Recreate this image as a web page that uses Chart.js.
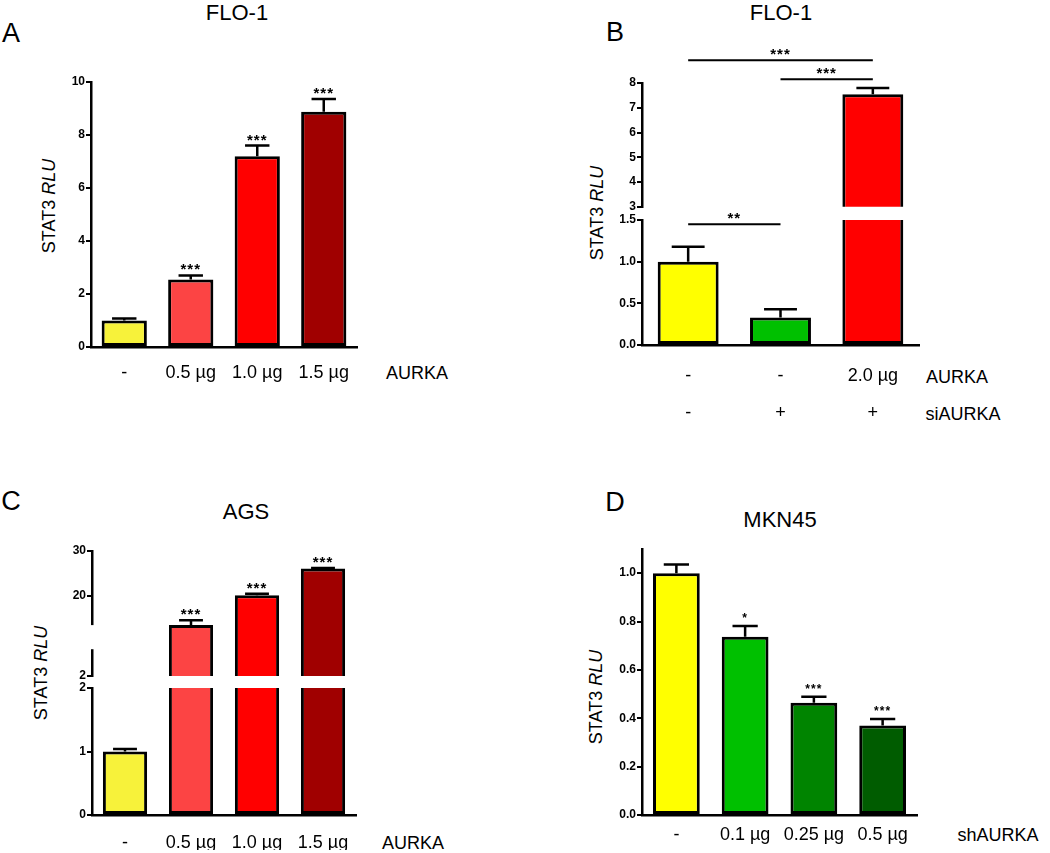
<!DOCTYPE html>
<html>
<head>
<meta charset="utf-8">
<script src="https://cdn.jsdelivr.net/npm/chart.js@4.4.0/dist/chart.umd.min.js"></script>
<style>
  body { margin: 0; background: #fff; width: 1050px; height: 853px; position: relative; overflow: hidden;
         font-family: "Liberation Sans", Arial, sans-serif; color: #000; }
  .t { position: absolute; white-space: nowrap; line-height: 1; transform: translate(-50%, -50%); }
  .letter { font-size: 27px; }
  .title { font-size: 22px; }
  .row { font-size: 18px; }
  .ytitle { font-size: 18px; transform: translate(-50%, -50%) rotate(-90deg); }
</style>
</head>
<body>
<div class="t letter" style="left:11px;top:33px">A</div>
<div class="t title" style="left:237px;top:13px">FLO-1</div>
<div class="t ytitle" style="left:49px;top:206px">STAT3 <i>RLU</i></div>
<div class="t row" style="left:417px;top:373px">AURKA</div>

<div class="t letter" style="left:615px;top:32px">B</div>
<div class="t title" style="left:781px;top:13px">FLO-1</div>
<div class="t ytitle" style="left:597px;top:213px">STAT3 <i>RLU</i></div>
<div class="t row" style="left:957px;top:377px">AURKA</div>
<div class="t row" style="left:963px;top:414px">siAURKA</div>

<div class="t letter" style="left:11px;top:501px">C</div>
<div class="t title" style="left:246px;top:512px">AGS</div>
<div class="t ytitle" style="left:41px;top:673px">STAT3 <i>RLU</i></div>
<div class="t row" style="left:413px;top:843px">AURKA</div>

<div class="t letter" style="left:615px;top:502px">D</div>
<div class="t title" style="left:780px;top:520px">MKN45</div>
<div class="t ytitle" style="left:596px;top:697px">STAT3 <i>RLU</i></div>
<div class="t row" style="left:998px;top:835px">shAURKA</div>

<script>
// A - FLO-1, AURKA overexpression
var aLabels = ['-', '0.5 µg', '1.0 µg', '1.5 µg'];
var aValues = [1.0, 2.55, 7.2, 8.88];
var aErrors = [0.08, 0.15, 0.4, 0.48];
var aStars = ['', '***', '***', '***'];
var aColors = ['#f7f23a', '#fc4444', '#ff0000', '#a00000'];

// B - FLO-1, siAURKA rescue (broken axis)
var bLabels = [['-', '-'], ['-', '+'], ['2.0 µg', '+']];
var bValues = [1.0, 0.33, 7.55];
var bErrors = [0.18, 0.1, 0.25];
var bColors = ['#ffff00', '#00c000', '#ff0000'];
var bUpperBrackets = [
    { from: 0, to: 2, y: 8.92, text: '***' },
    { from: 1, to: 2, y: 8.15, text: '***' }
];
var bLowerBrackets = [
    { from: 0, to: 1, y: 1.45, text: '**' }
];

// C - AGS (broken axis)
var cLabels = ['-', '0.5 µg', '1.0 µg', '1.5 µg'];
var cValues = [1.0, 13.4, 20.1, 26.1];
var cErrors = [0.04, 1.1, 0.35, 0.1];
var cStars = ['', '***', '***', '***'];
var cColors = ['#f7f23a', '#fc4444', '#ff0000', '#a00000'];
var cUpperTicks = [2, 20, 30];
var cAxisGap = [8, 13.4];

// D - MKN45, shAURKA
var dLabels = ['-', '0.1 µg', '0.25 µg', '0.5 µg'];
var dValues = [1.0, 0.737, 0.464, 0.37];
var dErrors = [0.036, 0.045, 0.025, 0.027];
var dStars = ['', '*', '***', '***'];
var dColors = ['#ffff00', '#00c000', '#008400', '#005c00'];

Chart.defaults.font.family = '"Liberation Sans", Arial, sans-serif';
Chart.defaults.color = '#000';

var errorBars = {
    id: 'errorBars',
    afterDatasetsDraw: function (chart, args, opts) {
        var ctx = chart.ctx;
        var yScale = chart.scales.y;
        var values = chart.data.datasets[0].data;
        ctx.save();
        ctx.strokeStyle = '#000';
        ctx.fillStyle = '#000';
        ctx.lineWidth = 2.5;
        chart.getDatasetMeta(0).data.forEach(function (bar, i) {
            var v = values[i];
            if (v < yScale.min || v > yScale.max) return;
            var yBar = yScale.getPixelForValue(v);
            var yTop = yScale.getPixelForValue(v + opts.errors[i]);
            var half = bar.width * 0.27;
            ctx.beginPath();
            ctx.moveTo(bar.x, yBar);
            ctx.lineTo(bar.x, yTop);
            ctx.moveTo(bar.x - half, yTop);
            ctx.lineTo(bar.x + half, yTop);
            ctx.stroke();
            if (opts.stars && opts.stars[i]) {
                ctx.font = opts.starFont;
                ctx.letterSpacing = opts.starSpacing;
                ctx.textAlign = 'center';
                ctx.fillText(opts.stars[i], bar.x, yTop + opts.starShift);
            }
        });
        ctx.restore();
    }
};

var brackets = {
    id: 'brackets',
    afterDraw: function (chart, args, opts) {
        if (!opts.list) return;
        var ctx = chart.ctx;
        var xs = chart.scales.x, ys = chart.scales.y;
        ctx.save();
        ctx.strokeStyle = '#000';
        ctx.fillStyle = '#000';
        ctx.lineWidth = 2;
        ctx.font = 'bold 15px "Liberation Sans", Arial, sans-serif';
        ctx.letterSpacing = '1px';
        ctx.textAlign = 'center';
        opts.list.forEach(function (b) {
            var x1 = xs.getPixelForValue(b.from);
            var x2 = xs.getPixelForValue(b.to);
            var y = ys.getPixelForValue(b.y);
            ctx.beginPath();
            ctx.moveTo(x1, y);
            ctx.lineTo(x2, y);
            ctx.stroke();
            ctx.fillText(b.text, (x1 + x2) / 2, y - 1);
        });
        ctx.restore();
    }
};

var axisGap = {
    id: 'axisGap',
    afterDraw: function (chart, args, opts) {
        if (!opts.range) return;
        var ys = chart.scales.y;
        var x0 = chart.chartArea.left;
        var y1 = ys.getPixelForValue(opts.range[1]);
        var y0 = ys.getPixelForValue(opts.range[0]);
        chart.ctx.save();
        chart.ctx.fillStyle = '#fff';
        chart.ctx.fillRect(x0 - 3, y1, 6, y0 - y1);
        chart.ctx.restore();
    }
};

// box = canvas [left, top, width, height]; area = plot area [left, top, right, bottom]
function makePanel(box, area, cfg) {
    var canvas = document.createElement('canvas');
    canvas.width = box[2];
    canvas.height = box[3];
    canvas.style.cssText = 'position:absolute;left:' + box[0] + 'px;top:' + box[1] + 'px;width:' +
        box[2] + 'px;height:' + box[3] + 'px';
    document.body.appendChild(canvas);

    var yW = 40;
    var xH = cfg.showX ? cfg.xHeight : 0;
    var yScale = {
        min: cfg.min,
        max: cfg.max,
        border: { color: '#000', width: 2.5 },
        grid: { drawOnChartArea: false, color: '#000', lineWidth: 2, tickLength: 5 },
        ticks: {
            font: { size: 12, weight: 'bold' },
            padding: 1,
            stepSize: cfg.step,
            includeBounds: false,
            callback: function (v) { return Number(v).toFixed(cfg.dec); }
        },
        afterFit: function (s) { s.width = yW; }
    };
    if (cfg.ticks) {
        yScale.afterBuildTicks = function (s) {
            s.ticks = cfg.ticks.map(function (v) { return { value: v }; });
        };
    }

    return new Chart(canvas, {
        type: 'bar',
        data: {
            labels: cfg.labels,
            datasets: [{
                data: cfg.values,
                backgroundColor: cfg.colors,
                borderColor: '#000',
                borderWidth: 3,
                borderSkipped: cfg.showX ? false : 'start',
                barPercentage: cfg.barPct,
                categoryPercentage: 1,
                clip: 0
            }]
        },
        options: {
            responsive: false,
            animation: false,
            events: [],
            layout: {
                padding: {
                    left: area[0] - box[0] - yW,
                    top: area[1] - box[1],
                    right: box[0] + box[2] - area[2],
                    bottom: box[1] + box[3] - area[3] - xH
                }
            },
            plugins: {
                legend: { display: false },
                tooltip: { enabled: false },
                errorBars: {
                    errors: cfg.errors,
                    stars: cfg.stars,
                    starFont: cfg.starFont || 'bold 15px "Liberation Sans", Arial, sans-serif',
                    starSpacing: cfg.starSpacing || '1px',
                    starShift: cfg.starShift || -1
                },
                brackets: { list: cfg.brackets },
                axisGap: { range: cfg.gap }
            },
            scales: {
                x: {
                    display: cfg.showX,
                    offset: true,
                    grid: { display: false, drawTicks: false },
                    border: { display: true, color: '#000', width: 2.5 },
                    ticks: {
                        font: { size: 18, lineHeight: cfg.lineHeight || 1.2 },
                        padding: cfg.xPad || 0,
                        maxRotation: 0,
                        autoSkip: false
                    },
                    afterFit: function (s) { s.height = xH; }
                },
                y: yScale
            }
        },
        plugins: [errorBars, brackets, axisGap]
    });
}

// A
makePanel([0, 40, 520, 360], [91, 82, 357, 347], {
    labels: aLabels, values: aValues, errors: aErrors, stars: aStars, colors: aColors,
    min: 0, max: 10, step: 2, dec: 0, barPct: 0.68,
    showX: true, xHeight: 45, xPad: 15
});

// B upper segment
makePanel([540, 40, 500, 175], [642, 83, 919, 207], {
    labels: bLabels, values: bValues, errors: bErrors, colors: bColors,
    min: 3, max: 8, step: 1, dec: 0, barPct: 0.66,
    showX: false, brackets: bUpperBrackets
});
// B lower segment
makePanel([540, 205, 500, 225], [642, 220, 919, 345], {
    labels: bLabels, values: bValues, errors: bErrors, colors: bColors,
    min: 0, max: 1.5, step: 0.5, dec: 1, barPct: 0.66,
    showX: true, xHeight: 80, xPad: 13, lineHeight: 37 / 18, brackets: bLowerBrackets
});

// C upper segment
makePanel([0, 520, 520, 165], [92, 551, 356, 676], {
    labels: cLabels, values: cValues, errors: cErrors, stars: cStars, colors: cColors,
    min: 2, max: 30, dec: 0, ticks: cUpperTicks, barPct: 0.67,
    showX: false, gap: cAxisGap
});
// C lower segment
makePanel([0, 675, 520, 178], [92, 688, 356, 815], {
    labels: cLabels, values: cValues, errors: cErrors, stars: cStars, colors: cColors,
    min: 0, max: 2, step: 1, dec: 0, barPct: 0.67,
    showX: true, xHeight: 35, xPad: 17
});

// D
makePanel([540, 520, 510, 333], [642, 549, 917, 815], {
    labels: dLabels, values: dValues, errors: dErrors, stars: dStars, colors: dColors,
    min: 0, max: 1.1, step: 0.2, dec: 1, barPct: 0.68,
    showX: true, xHeight: 35, xPad: 9,
    starFont: 'bold 12px "Liberation Sans", Arial, sans-serif', starSpacing: '1px', starShift: -4
});
</script>
</body>
</html>
